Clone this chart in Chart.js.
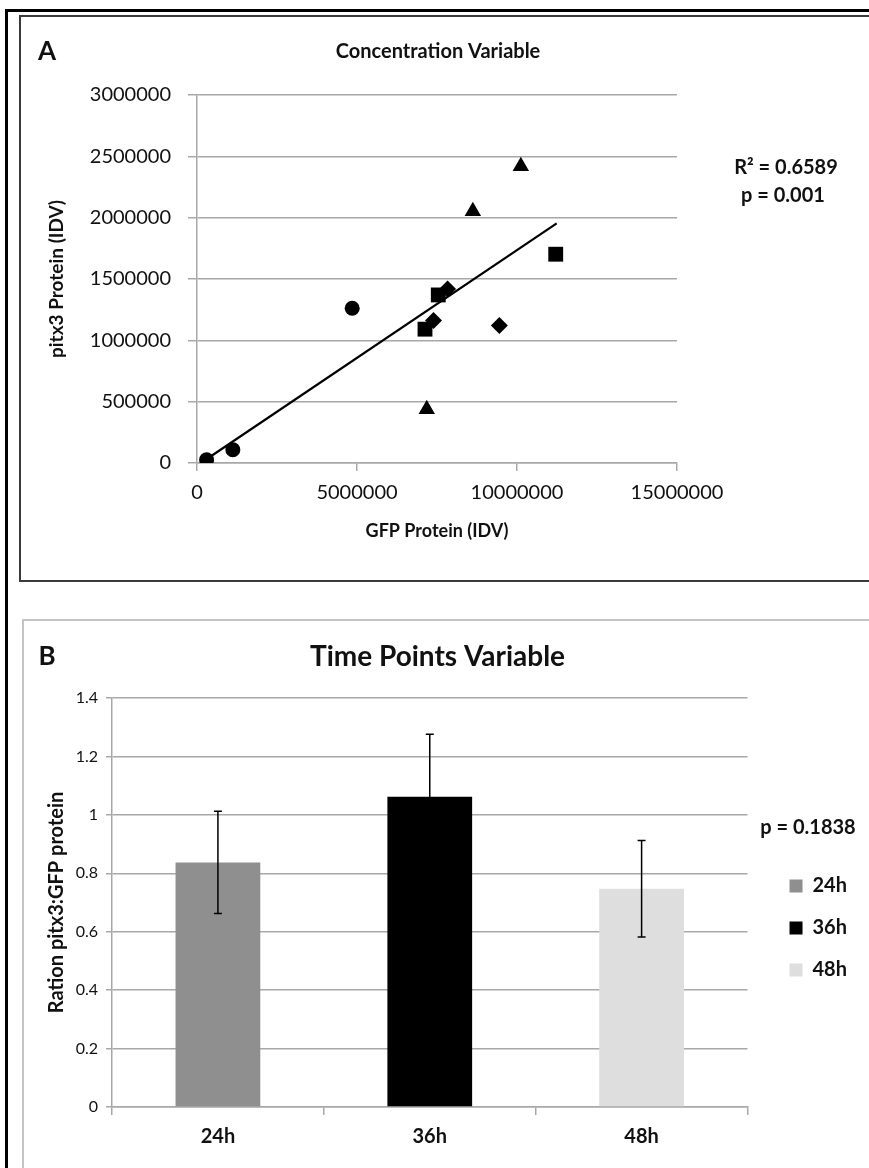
<!DOCTYPE html>
<html>
<head>
<meta charset="utf-8">
<script src="https://cdn.jsdelivr.net/npm/chart.js@4.4.0/dist/chart.umd.min.js"></script>
<style>
  html, body { margin: 0; padding: 0; background: #fff; }
  body { width: 869px; height: 1168px; position: relative; overflow: hidden; }
  .frame { position: absolute; box-sizing: border-box; }
  #outer { left: 5px; top: 9px; width: 900px; height: 1200px; border-left: 3px solid #000; border-top: 3px solid #000; }
  #boxA { left: 19px; top: 15px; width: 900px; height: 567px; border: 2px solid #3a3a3a; }
  #boxB { left: 22px; top: 619px; width: 900px; height: 600px; border: 2px solid #c4c4c4; }
  canvas { position: absolute; left: 0; }
  #chartA { top: 0; }
  #chartB { top: 620px; }
</style>
</head>
<body>
<div class="frame" id="outer"></div>
<div class="frame" id="boxA"></div>
<div class="frame" id="boxB"></div>
<canvas id="chartA" width="869" height="580"></canvas>
<canvas id="chartB" width="869" height="548"></canvas>
<script>
// ---- Panel A: pitx3 vs GFP protein, one series per marker shape ----
const circleX = [300000, 1120000, 4850000];
const circleY = [27000, 108000, 1262000];
const squareX = [7125000, 7540000, 11210000];
const squareY = [1091000, 1370000, 1702000];
const diamondX = [7390000, 7830000, 9450000];
const diamondY = [1161000, 1419000, 1120000];
const triangleX = [7180000, 8620000, 10120000];
const triangleY = [438000, 2053000, 2419000];
// linear trendline end points
const trendX = [353000, 11240000];
const trendY = [41000, 1954000];
const xTicksA = [0, 5000000, 10000000, 15000000];
const yTicksA = [0, 500000, 1000000, 1500000, 2000000, 2500000, 3000000];

// ---- Panel B: ratio by time point ----
const timeLabels = ["24h", "36h", "48h"];
const ratioValues = [0.837, 1.062, 0.747];
const ratioErrors = [0.175, 0.214, 0.165];
const barColors = ["#8f8f8f", "#000000", "#dedede"];
const yTicksB = [0, 0.2, 0.4, 0.6, 0.8, 1, 1.2, 1.4];

Chart.defaults.font.family = "Lato, 'Open Sans', sans-serif";
Chart.defaults.color = "#111";

const gridColor = "#a8a8a8";

function toPoints(xs, ys) {
  return xs.map((x, i) => ({ x: x, y: ys[i] }));
}

// plugin to write free text (panel letters, stats) on the canvas
const panelText = {
  id: "panelText",
  afterDraw(chart, args, opts) {
    const ctx = chart.ctx;
    ctx.save();
    ctx.fillStyle = "#111";
    ctx.textBaseline = "middle";
    (opts.items || []).forEach((t) => {
      ctx.font = "bold " + t.size + "px Lato, 'Open Sans', sans-serif";
      ctx.textAlign = t.align || "center";
      ctx.fillText(t.text, t.x, t.y);
    });
    ctx.restore();
  },
};

// error bars for the bar chart
const errorBars = {
  id: "errorBars",
  afterDatasetsDraw(chart) {
    const ctx = chart.ctx;
    const yScale = chart.scales.y;
    const meta = chart.getDatasetMeta(0);
    ctx.save();
    ctx.strokeStyle = "#000";
    ctx.lineWidth = 1.5;
    meta.data.forEach((bar, i) => {
      const top = yScale.getPixelForValue(ratioValues[i] + ratioErrors[i]);
      const bot = yScale.getPixelForValue(ratioValues[i] - ratioErrors[i]);
      ctx.beginPath();
      ctx.moveTo(bar.x, top);
      ctx.lineTo(bar.x, bot);
      ctx.moveTo(bar.x - 4, top);
      ctx.lineTo(bar.x + 4, top);
      ctx.moveTo(bar.x - 4, bot);
      ctx.lineTo(bar.x + 4, bot);
      ctx.stroke();
    });
    ctx.restore();
  },
};

const markerBase = { backgroundColor: "#000", borderColor: "#000", borderWidth: 0 };

new Chart(document.getElementById("chartA"), {
  type: "scatter",
  data: {
    datasets: [
      Object.assign({ label: "circle", data: toPoints(circleX, circleY), pointStyle: "circle", pointRadius: 7.5 }, markerBase),
      Object.assign({ label: "square", data: toPoints(squareX, squareY), pointStyle: "rect", pointRadius: 10.5 }, markerBase),
      Object.assign({ label: "diamond", data: toPoints(diamondX, diamondY), pointStyle: "rectRot", pointRadius: 8.5 }, markerBase),
      Object.assign({ label: "triangle", data: toPoints(triangleX, triangleY), pointStyle: "triangle", pointRadius: 9.5 }, markerBase),
      {
        label: "trend",
        type: "line",
        data: toPoints(trendX, trendY),
        showLine: true,
        pointRadius: 0,
        borderColor: "#000",
        borderWidth: 2.2,
      },
    ],
  },
  options: {
    responsive: false,
    animation: false,
    layout: { padding: { left: 7, right: 0, top: 0, bottom: 0 } },
    plugins: {
      legend: { display: false },
      tooltip: { enabled: false },
      title: {
        display: true,
        text: "Concentration Variable",
        font: { size: 20, weight: "bold", lineHeight: 1.2 },
        color: "#111",
        padding: { top: 40, bottom: 31 },
      },
      panelText: {
        items: [
          { text: "A", x: 47, y: 52, size: 26 },
          { text: "R\u00B2 = 0.6589", x: 786, y: 168, size: 20 },
          { text: "p = 0.001", x: 783, y: 196, size: 20 },
        ],
      },
    },
    scales: {
      x: {
        type: "linear",
        min: 0,
        max: 15000000,
        afterBuildTicks: (s) => { s.ticks = xTicksA.map((v) => ({ value: v })); },
        afterFit: (s) => { s.height = 117; },
        ticks: { font: { size: 20 }, padding: 10, maxRotation: 0, autoSkip: false, callback: (v) => String(v) },
        grid: { drawOnChartArea: false, drawTicks: true, tickLength: 8, color: gridColor, lineWidth: 1.5 },
        border: { color: gridColor, width: 1.5 },
        title: { display: true, text: "GFP Protein (IDV)", font: { size: 18, weight: "bold", lineHeight: 1.2 }, padding: { top: 0, bottom: 38 } },
      },
      y: {
        type: "linear",
        min: 0,
        max: 3000000,
        afterBuildTicks: (s) => { s.ticks = yTicksA.map((v) => ({ value: v })); },
        afterFit: (s) => { s.width = 190; },
        ticks: { font: { size: 20 }, padding: 17, callback: (v) => String(v) },
        grid: { tickLength: 9, color: gridColor, lineWidth: 1.5 },
        border: { color: gridColor, width: 1.5 },
        title: { display: true, text: "pitx3 Protein (IDV)", font: { size: 19, weight: "bold", lineHeight: 1.2 }, padding: { top: 38, bottom: 0 } },
      },
      yR: {
        type: "linear",
        position: "right",
        afterFit: (s) => { s.width = 192; },
        ticks: { display: false },
        grid: { display: false },
        border: { display: false },
      },
    },
  },
  plugins: [panelText],
});

new Chart(document.getElementById("chartB"), {
  type: "bar",
  data: {
    labels: timeLabels,
    datasets: [
      {
        label: "ratio",
        data: ratioValues,
        backgroundColor: barColors,
        borderWidth: 0,
        categoryPercentage: 1,
        barPercentage: 0.4,
      },
    ],
  },
  options: {
    responsive: false,
    animation: false,
    layout: { padding: { left: 18, right: 12, top: 0, bottom: 0 } },
    plugins: {
      tooltip: { enabled: false },
      title: {
        display: true,
        text: "Time Points Variable",
        font: { size: 28, weight: "bold", lineHeight: 1.2 },
        color: "#111",
        padding: { top: 20, bottom: 24.4 },
      },
      legend: {
        display: true,
        position: "right",
        fullSize: false,
        align: "center",
        // blank title only reserves the room where the p value is written
        title: {
          display: true,
          text: " ",
          font: { size: 20, weight: "bold", lineHeight: 1.2 },
          padding: { top: 15, bottom: 12 },
        },
        labels: {
          boxWidth: 13,
          boxHeight: 13,
          padding: 22,
          color: "#111",
          font: { size: 20, weight: "bold" },
          generateLabels: (chart) => chart.data.labels.map((l, i) => ({
            text: l,
            fillStyle: barColors[i],
            strokeStyle: barColors[i],
            lineWidth: 0,
            hidden: false,
            index: i,
          })),
        },
      },
      panelText: {
        items: [
          { text: "B", x: 47, y: 37, size: 26 },
          { text: "p = 0.1838", x: 808, y: 208, size: 20 },
        ],
      },
    },
    scales: {
      x: {
        afterFit: (s) => { s.height = 61; },
        ticks: { font: { size: 20, weight: "bold" }, padding: 10 },
        grid: { offset: true, drawOnChartArea: false, drawTicks: true, tickLength: 8, color: gridColor, lineWidth: 1.5 },
        border: { color: gridColor, width: 1.5 },
      },
      y: {
        min: 0,
        max: 1.4,
        afterBuildTicks: (s) => { s.ticks = yTicksB.map((v) => ({ value: v })); },
        afterFit: (s) => { s.width = 94; },
        ticks: { font: { size: 16 }, padding: 8, callback: (v) => String(Math.round(v * 10) / 10) },
        grid: { tickLength: 6, color: gridColor, lineWidth: 1.5 },
        border: { color: gridColor, width: 1.5 },
        title: { display: true, text: "Ration pitx3:GFP protein", font: { size: 20, weight: "bold", lineHeight: 1.2 }, padding: { top: 27, bottom: 0 } },
      },
      yR: {
        type: "linear",
        position: "right",
        afterFit: (s) => { s.width = 20; },
        ticks: { display: false },
        grid: { display: false },
        border: { display: false },
      },
    },
  },
  plugins: [panelText, errorBars],
});
</script>
</body>
</html>
